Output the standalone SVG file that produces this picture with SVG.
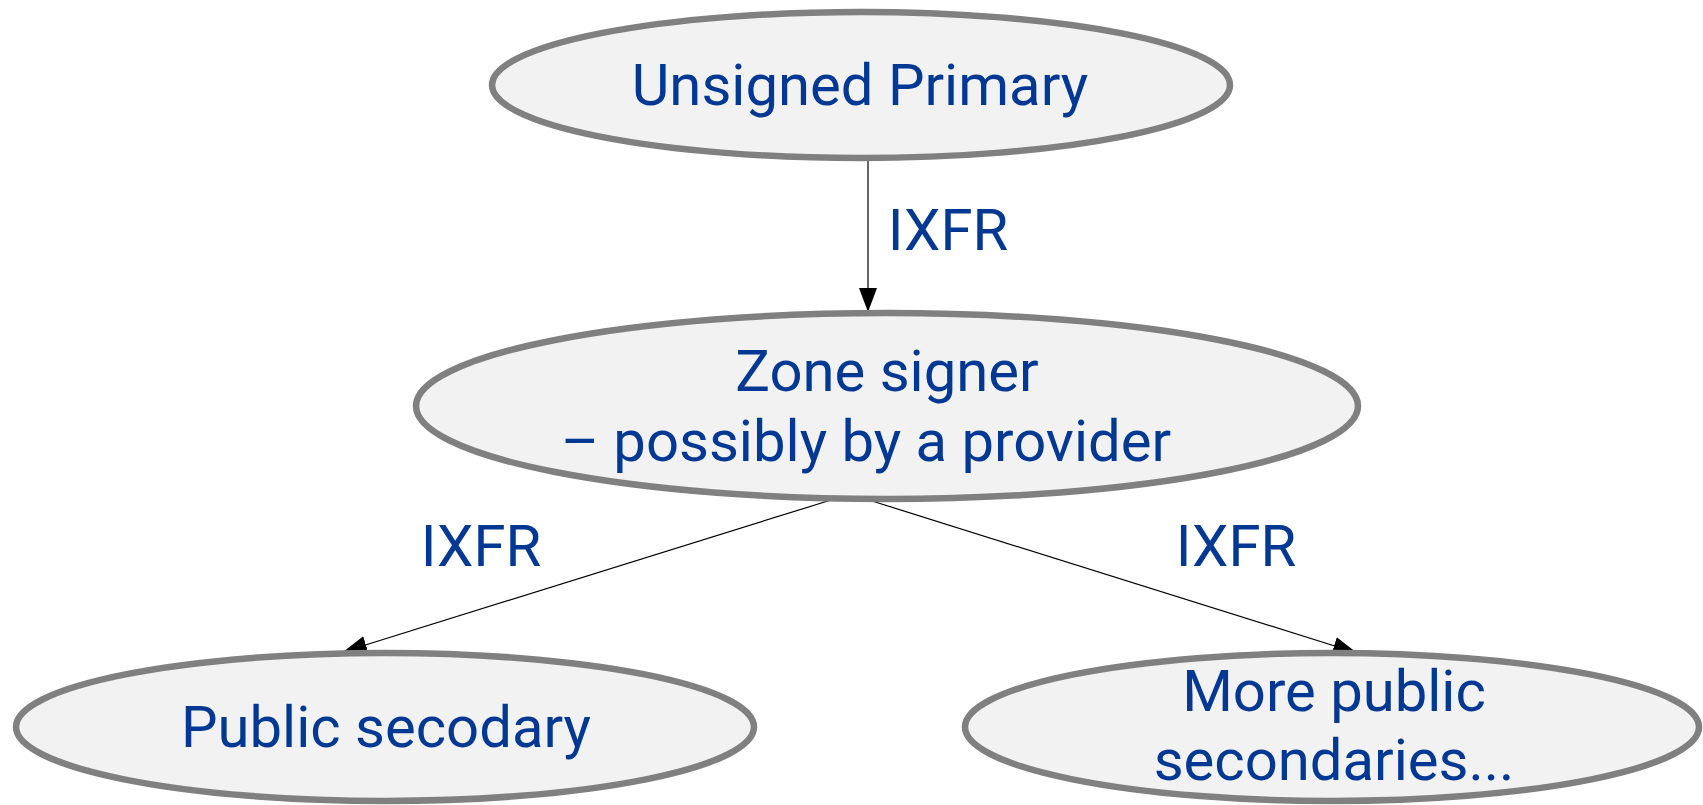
<svg xmlns="http://www.w3.org/2000/svg" width="1703" height="805" viewBox="0 0 1703 805">
<style>
.node ellipse{fill:#f2f2f2;stroke:#808080;stroke-width:6.5}
.t{font-family:Roboto,"Liberation Sans",sans-serif;font-size:58px;fill:#003893;text-anchor:middle}
.edge{stroke:#000;stroke-width:1.2;fill:none;marker-end:url(#arr)}
</style>
<defs>
<marker id="arr" markerUnits="userSpaceOnUse" markerWidth="26" markerHeight="20" refX="24" refY="9" orient="auto">
<path d="M0,0 L24,9 L0,18 z" fill="#000"/>
</marker>
</defs>
<rect width="1703" height="805" fill="#fff"/>
<g id="connectors">
<line class="edge" x1="868" y1="161" x2="868" y2="312"/>
<line class="edge" x1="831" y1="500" x2="343" y2="652"/>
<line class="edge" x1="872" y1="501" x2="1357" y2="653"/>
<text class="t" x="948" y="250">IXFR</text>
<text class="t" x="481" y="566">IXFR</text>
<text class="t" x="1236" y="566">IXFR</text>
</g>
<g id="unsigned-primary" class="node">
<ellipse cx="861" cy="85" rx="369" ry="73"/>
<text class="t" x="860" y="105">Unsigned Primary</text>
</g>
<g id="zone-signer" class="node">
<ellipse cx="887" cy="406" rx="471" ry="93"/>
<text class="t" x="887" y="391">Zone signer</text>
<text class="t" x="866" y="461">– possibly by a provider</text>
</g>
<g id="public-secondary" class="node">
<ellipse cx="385" cy="727" rx="369" ry="74"/>
<text class="t" x="386" y="747">Public secodary</text>
</g>
<g id="more-secondaries" class="node">
<ellipse cx="1332" cy="727" rx="367" ry="74"/>
<text class="t" x="1334" y="711">More public</text>
<text class="t" x="1334" y="780">secondaries...</text>
</g>
</svg>
